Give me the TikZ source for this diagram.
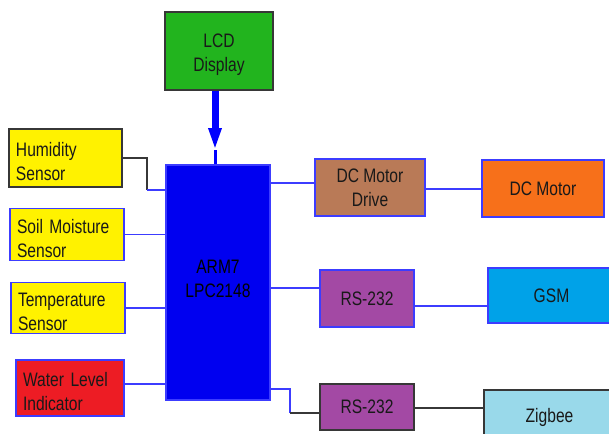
\documentclass[tikz,border=0pt]{standalone}
\usepackage{fontspec}
\setmainfont{Liberation Sans}[FakeStretch=0.8]
\usetikzlibrary{arrows.meta, positioning, calc}
\definecolor{lcdgreen}{RGB}{34,180,30}
\definecolor{armblue}{RGB}{0,0,240}
\definecolor{edgeblue}{RGB}{60,60,255}
\definecolor{sensoryellow}{RGB}{255,242,0}
\definecolor{waterred}{RGB}{237,28,36}
\definecolor{drivebrown}{RGB}{185,122,87}
\definecolor{motororange}{RGB}{247,112,26}
\definecolor{rspurple}{RGB}{163,73,164}
\definecolor{gsmblue}{RGB}{0,162,232}
\definecolor{zigblue}{RGB}{153,217,234}
\definecolor{darkedge}{RGB}{55,55,55}

\begin{document}
\begin{tikzpicture}[x=1pt, y=-1pt,
    every node/.style={font=\fontsize{19.5}{24}\selectfont, text=black!90},
    block/.style={draw=edgeblue, line width=1.2pt, align=center},
    darkblock/.style={draw=darkedge, line width=1.2pt, align=center},
    leftblock/.style={block, align=left, inner xsep=7pt, text height=21pt, text depth=24pt},
    twoline/.style={text height=45pt, text depth=3pt},
    blueline/.style={edgeblue, line width=1.2pt},
    darkline/.style={darkedge, line width=1.3pt},
    fatarrow/.style={blue, line width=7pt, -{Triangle[width=12pt, length=22pt]}}]
    \useasboundingbox (0,0) rectangle (609,433);

    % Nodes
    \node[darkblock, twoline, fill=lcdgreen, minimum width=108pt, minimum height=78pt] (lcd) at (219,51) {LCD\\Display};
    \node[block, fill=armblue, text=black, text height=29pt, text depth=0pt, minimum width=104pt, minimum height=235pt] (arm) at (218,282.5) {ARM7\\LPC2148};

    \node[leftblock, draw=darkedge, fill=sensoryellow, text width=99pt, minimum height=58pt] (hum) at (65.5,158) {Humidity\\Sensor};
    \node[leftblock, fill=sensoryellow, text width=100pt, minimum height=49pt] (soil) at (67,234.5) {Soil Moisture\\Sensor};
    \node[leftblock, fill=sensoryellow, text width=100pt, minimum height=50pt] (temp) at (68,308) {Temperature\\Sensor};
    \node[leftblock, fill=waterred, text width=94pt, minimum height=56pt] (water) at (70,388) {Water Level\\Indicator};

    \node[block, fill=drivebrown, minimum width=110pt, minimum height=57pt] (drive) at (370,187.5) {DC Motor\\Drive};
    \node[block, fill=motororange, minimum width=122pt, minimum height=57pt] (motor) at (543,188.5) {DC Motor};
    \node[block, fill=rspurple, minimum width=94pt, minimum height=57pt] (rs1) at (367,298.5) {RS-232};
    \node[block, fill=gsmblue, minimum width=127pt, minimum height=55pt] (gsm) at (551.5,295.5) {GSM};
    \node[darkblock, fill=rspurple, minimum width=94pt, minimum height=46pt] (rs2) at (367,407) {RS-232};
    \node[darkblock, fill=zigblue, minimum width=131pt, minimum height=55pt] (zig) at (549.5,417.5) {Zigbee};

    \coordinate (lcdtip) at (215,150);
    \coordinate (humbend) at (147,190);
    \coordinate (rsbend) at (290,413);

    % Edges
    \draw[fatarrow] (lcd.south -| lcdtip) -- (lcdtip);
    \draw[blue, line width=3pt] (lcdtip) -- (lcdtip |- arm.north);

    \draw[darkline] (hum.east) -| (humbend);
    \draw[blueline] (humbend) -- (humbend -| arm.west);
    \draw[blueline] (soil.east) -- (soil.east -| arm.west);
    \draw[blueline] (temp.east) -- (temp.east -| arm.west);
    \draw[blueline] (water.east |- 0,384) -- (arm.west |- 0,384);

    \draw[blueline] (arm.east |- 0,183) -- (drive.west |- 0,183);
    \draw[blueline] (drive.east |- 0,189) -- (motor.west |- 0,189);
    \draw[blueline] (arm.east |- 0,288) -- (rs1.west |- 0,288);
    \draw[blueline] (rs1.east |- 0,306) -- (gsm.west |- 0,306);
    \draw[blueline] (arm.east |- 0,389) -| (rsbend);
    \draw[darkline] (rsbend) -- (rsbend -| rs2.west);
    \draw[darkline] (rs2.east |- 0,408) -- (zig.west |- 0,408);

\end{tikzpicture}
\end{document}
